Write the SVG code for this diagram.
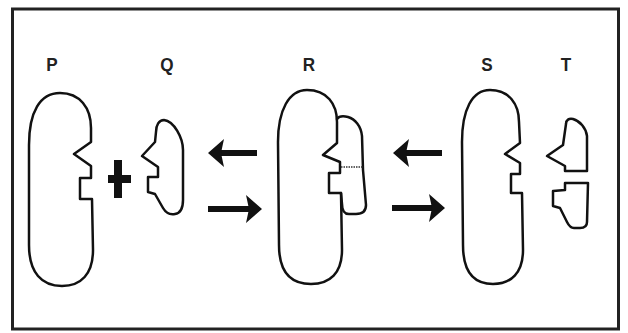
<svg xmlns="http://www.w3.org/2000/svg" width="628" height="333" viewBox="0 0 628 333">
  <defs>
    <marker id="head" viewBox="0 0 16 28" refX="12" refY="14" markerWidth="16" markerHeight="28" markerUnits="userSpaceOnUse" orient="auto">
      <path d="M0,0 L16,14 L0,28 L3,14 Z" fill="#111"/>
    </marker>
  </defs>
  <style>
    .frame { fill: #fff; stroke: #222; stroke-width: 3; }
    .shape { fill: none; stroke: #111; stroke-width: 2.5; stroke-linejoin: round; stroke-linecap: round; }
    .label { font-family: "Liberation Sans", Arial, sans-serif; font-weight: bold; font-size: 19px; fill: #222; text-anchor: middle; }
    .arrow { stroke: #111; stroke-width: 6; fill: none; marker-end: url(#head); }
    .bond { stroke: #333; stroke-width: 1.5; stroke-dasharray: 1.5 1; fill: none; }
  </style>

  <rect class="frame" x="12.5" y="9" width="606" height="320"/>

  <!-- enzyme P with its active-site notch -->
  <g id="P">
    <text class="label" x="52" y="71" transform="translate(52 71) scale(0.9 1) translate(-52 -71)">P</text>
    <path class="shape" d="M60,93 C80,93 91,108 91,128 L91,142 L74,154 L91,166 L91,178 L80,178 L80,199 L92,199 L93,250 C93,274 81,286 62,286 C42,286 29,273 29,245 L29,145 C29,112 40,93 60,93 Z"/>
  </g>

  <!-- plus sign -->
  <g id="plus">
    <rect x="114" y="160" width="8" height="38" fill="#111"/>
    <rect x="108" y="175" width="23" height="8" fill="#111"/>
  </g>

  <!-- substrate Q -->
  <g id="Q">
    <text class="label" x="167" y="71" transform="translate(167 71) scale(0.9 1) translate(-167 -71)">Q</text>
    <path class="shape" d="M164,120 C159,120 156,125 156,132 L155,142 L142,156 L158,167 L158,177 L148,177 L148,192 L155,194 L163,208 C166,213 170,215 175,214 C181,213 183,208 183,200 L183,150 C183,138 174,121 164,120 Z"/>
  </g>

  <!-- enzyme-substrate complex R -->
  <g id="R">
    <text class="label" x="309" y="71" transform="translate(309 71) scale(0.9 1) translate(-309 -71)">R</text>
    <path class="shape" d="M307,90 C327,90 337,104 337,122 L337,143 L323,155 L340,162 L340,173 L329,173 L329,193 L341,193 L342,250 C342,273 330,284 311,284 C291,284 279,272 279,245 L278,142 C278,110 289,90 307,90 Z"/>
    <path class="shape" d="M337,119 C339,116 344,116 348,117 C355,119 361,126 362,136 L363,170 L366,205 C366,212 362,214 356,214 L349,214 C344,214 342,210 342,204 L341,193"/>
    <line class="bond" x1="341" y1="167" x2="363" y2="167"/>
  </g>

  <!-- enzyme S -->
  <g id="S">
    <text class="label" x="487" y="71" transform="translate(487 71) scale(0.9 1) translate(-487 -71)">S</text>
    <path class="shape" d="M490,90 C509,90 519,104 519,122 L520,143 L505,154 L520,163 L520,174 L511,174 L511,193 L522,193 L523,250 C523,273 511,284 493,284 C474,284 463,272 463,245 L462,142 C462,110 472,90 490,90 Z"/>
  </g>

  <!-- products T -->
  <g id="T">
    <text class="label" x="566" y="71" transform="translate(566 71) scale(0.9 1) translate(-566 -71)">T</text>
    <path class="shape" d="M566,124 C566,120 569,118 573,119 C580,121 586,128 587,136 L587,171 L565,171 L565,166 L547,156 L563,145 Z"/>
    <path class="shape" d="M565,183 L588,183 L587,222 C587,227 584,228 580,228 L574,228 C571,228 569,226 567,222 L560,208 L553,206 L553,191 L565,190 Z"/>
  </g>

  <!-- reversible reaction arrows -->
  <g id="connectors">
    <line class="arrow" x1="257" y1="153" x2="212" y2="153"/>
    <line class="arrow" x1="208" y1="209" x2="258" y2="209"/>
    <line class="arrow" x1="442" y1="153" x2="397" y2="153"/>
    <line class="arrow" x1="392" y1="208" x2="441" y2="208"/>
  </g>
</svg>
